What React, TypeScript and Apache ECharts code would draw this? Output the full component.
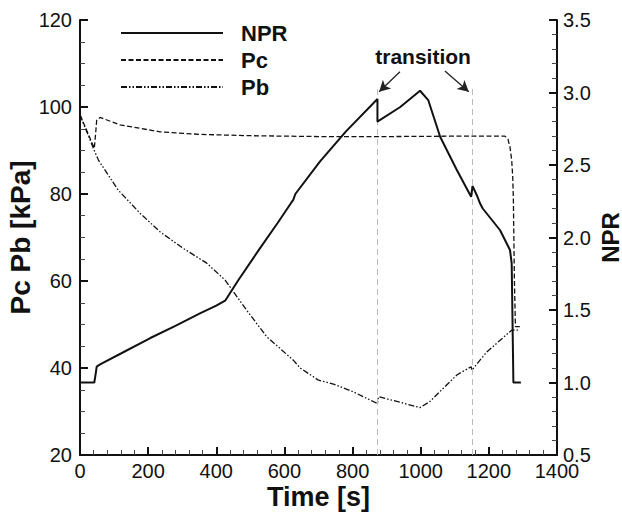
import React, { useEffect, useRef } from "react";
import * as echarts from "echarts";

// ---- data ----
const nprTime = [0, 42, 46, 49, 59, 120, 205, 280, 352, 400, 426, 465, 528, 580, 620, 626, 632, 704, 780, 873, 873, 940, 998, 1022, 1057, 1106, 1148, 1152, 1165, 1174, 1182, 1233, 1262, 1267, 1272, 1294];
const nprValue = [1.0, 1.0, 1.06, 1.11, 1.125, 1.2, 1.305, 1.39, 1.477, 1.53, 1.564, 1.707, 1.925, 2.1, 2.24, 2.259, 2.3, 2.523, 2.73, 2.955, 2.799, 2.9, 3.012, 2.948, 2.695, 2.466, 2.281, 2.355, 2.29, 2.236, 2.2, 2.05, 1.914, 1.822, 1.0, 1.0];

const pcTime = [0, 42, 46, 49, 59, 117, 176, 235, 352, 500, 704, 900, 1100, 1247, 1256, 1262, 1267, 1270, 1272, 1275, 1278, 1291];
const pcValue = [98.2, 90.5, 94, 97, 97.6, 95.9, 95.1, 94.3, 93.7, 93.4, 93.2, 93.2, 93.3, 93.3, 92.6, 90.8, 87.8, 84, 78.6, 60, 49.5, 49.5];

const pbTime = [0, 42, 54, 112, 176, 235, 303, 372, 426, 489, 548, 626, 646, 700, 744, 800, 871, 873, 876, 940, 998, 1027, 1106, 1148, 1150, 1194, 1267, 1291];
const pbValue = [98.2, 90, 87.8, 80.9, 75.6, 71.3, 67.5, 64.1, 60.2, 53.3, 47.2, 41.8, 40, 37.2, 36.3, 34.6, 31.9, 31.8, 33.4, 32.1, 30.9, 32.3, 38.4, 40.3, 39.5, 43.7, 48.7, 48.7];

const transitionTimes = [873, 1150];
const transitionLabel = "transition";

const seriesNames = ["NPR", "Pc", "Pb"];

const FONT = "'Liberation Sans', Arial, Helvetica, sans-serif";
const INK = "#111";

const pairs = (t: number[], v: number[]) => t.map((x, i) => [x, v[i]]);

export default function App() {
  const ref = useRef<HTMLDivElement>(null);
  useEffect(() => {
    if (!ref.current) return;
    const chart = echarts.init(ref.current, null, { renderer: "svg" });
    const axisCommon = {
      axisLine: { show: true, lineStyle: { color: INK, width: 2 } },
      axisTick: { show: true, inside: true, length: 8, lineStyle: { color: INK, width: 2 } },
      minorTick: { show: true, length: 5, lineStyle: { color: "#444", width: 1 } },
      splitLine: { show: false },
      minorSplitLine: { show: false },
      axisLabel: { color: INK, fontSize: 20, fontFamily: FONT },
      nameTextStyle: { color: INK, fontWeight: "bold" as const, fontFamily: FONT },
      nameMoveOverlap: false,
    };
    chart.setOption({
      animation: false,
      backgroundColor: "#fff",
      grid: { left: 80, right: 65, top: 20, bottom: 60, containLabel: false, outerBoundsMode: "none" },
      legend: {
        orient: "vertical",
        left: 115,
        top: 17,
        itemWidth: 102,
        itemHeight: 12,
        itemGap: 5,
        selectedMode: false,
        itemStyle: { opacity: 0 },
        textStyle: { color: INK, fontSize: 22, fontWeight: "bold", fontFamily: FONT, padding: [0, 0, 0, 13], lineHeight: 22 },
        data: seriesNames,
      },
      xAxis: {
        type: "value",
        min: 0,
        max: 1400,
        interval: 200,
        name: "Time [s]",
        nameLocation: "middle",
        nameGap: 28,
        ...axisCommon,
        minorTick: { ...axisCommon.minorTick, splitNumber: 5 },
        axisLabel: { ...axisCommon.axisLabel, margin: 6, formatter: (v: number) => String(v) },
        nameTextStyle: { ...axisCommon.nameTextStyle, fontSize: 27 },
      },
      yAxis: [
        {
          type: "value",
          min: 20,
          max: 120,
          interval: 20,
          name: "Pc Pb [kPa]",
          nameLocation: "middle",
          nameRotate: 90,
          nameGap: 46,
          ...axisCommon,
          minorTick: { ...axisCommon.minorTick, splitNumber: 4 },
          axisLabel: { ...axisCommon.axisLabel, margin: 8 },
          nameTextStyle: { ...axisCommon.nameTextStyle, fontSize: 28 },
        },
        {
          type: "value",
          position: "right",
          min: 0.5,
          max: 3.5,
          interval: 0.5,
          name: "NPR",
          nameLocation: "middle",
          nameRotate: 90,
          nameGap: 41,
          ...axisCommon,
          minorTick: { ...axisCommon.minorTick, splitNumber: 5 },
          axisLabel: { ...axisCommon.axisLabel, margin: 6, formatter: (v: number) => v.toFixed(1) },
          nameTextStyle: { ...axisCommon.nameTextStyle, fontSize: 24 },
        },
      ],
      series: [
        {
          name: "NPR",
          type: "line",
          yAxisIndex: 1,
          symbol: "none",
          data: pairs(nprTime, nprValue),
          lineStyle: { color: INK, width: 2 },
          itemStyle: { color: INK },
          z: 5,
        },
        {
          name: "Pc",
          type: "line",
          yAxisIndex: 0,
          symbol: "none",
          data: pairs(pcTime, pcValue),
          lineStyle: { color: INK, width: 1.3, type: [5, 2.5] },
          itemStyle: { color: INK },
          markLine: {
            silent: true,
            symbol: "none",
            label: { show: false },
            lineStyle: { color: "#bbb", width: 1, type: [6, 4] },
            data: transitionTimes.map((t) => [{ coord: [t, 20] }, { coord: [t, 105] }]),
          },
        },
        {
          name: "Pb",
          type: "line",
          yAxisIndex: 0,
          symbol: "none",
          data: pairs(pbTime, pbValue),
          lineStyle: { color: INK, width: 1.3, type: [6, 2, 1.5, 2, 1.5, 2] },
          itemStyle: { color: INK },
          markLine: {
            silent: true,
            symbol: ["none", "arrow"],
            symbolSize: [9, 11],
            label: { show: false },
            lineStyle: { color: "#222", width: 1.3, type: "solid" },
            data: [
              [{ coord: [939, 108.1] }, { coord: [878, 103.5] }],
              [{ coord: [1071, 108.3] }, { coord: [1141, 103.5] }],
            ],
          },
          markPoint: {
            silent: true,
            symbol: "rect",
            symbolSize: 1,
            itemStyle: { color: "rgba(0,0,0,0)" },
            data: [{ coord: [1007, 111.5], value: 0 }],
            label: {
              show: true,
              position: "inside",
              formatter: transitionLabel,
              color: INK,
              fontSize: 21,
              fontWeight: "bold",
              fontFamily: FONT,
            },
          },
        },
      ],
    });
    return () => chart.dispose();
  }, []);
  return (
    <div
      ref={ref}
      style={{ position: "fixed", left: 0, top: 0, width: 622, height: 515, background: "#fff" }}
    />
  );
}
